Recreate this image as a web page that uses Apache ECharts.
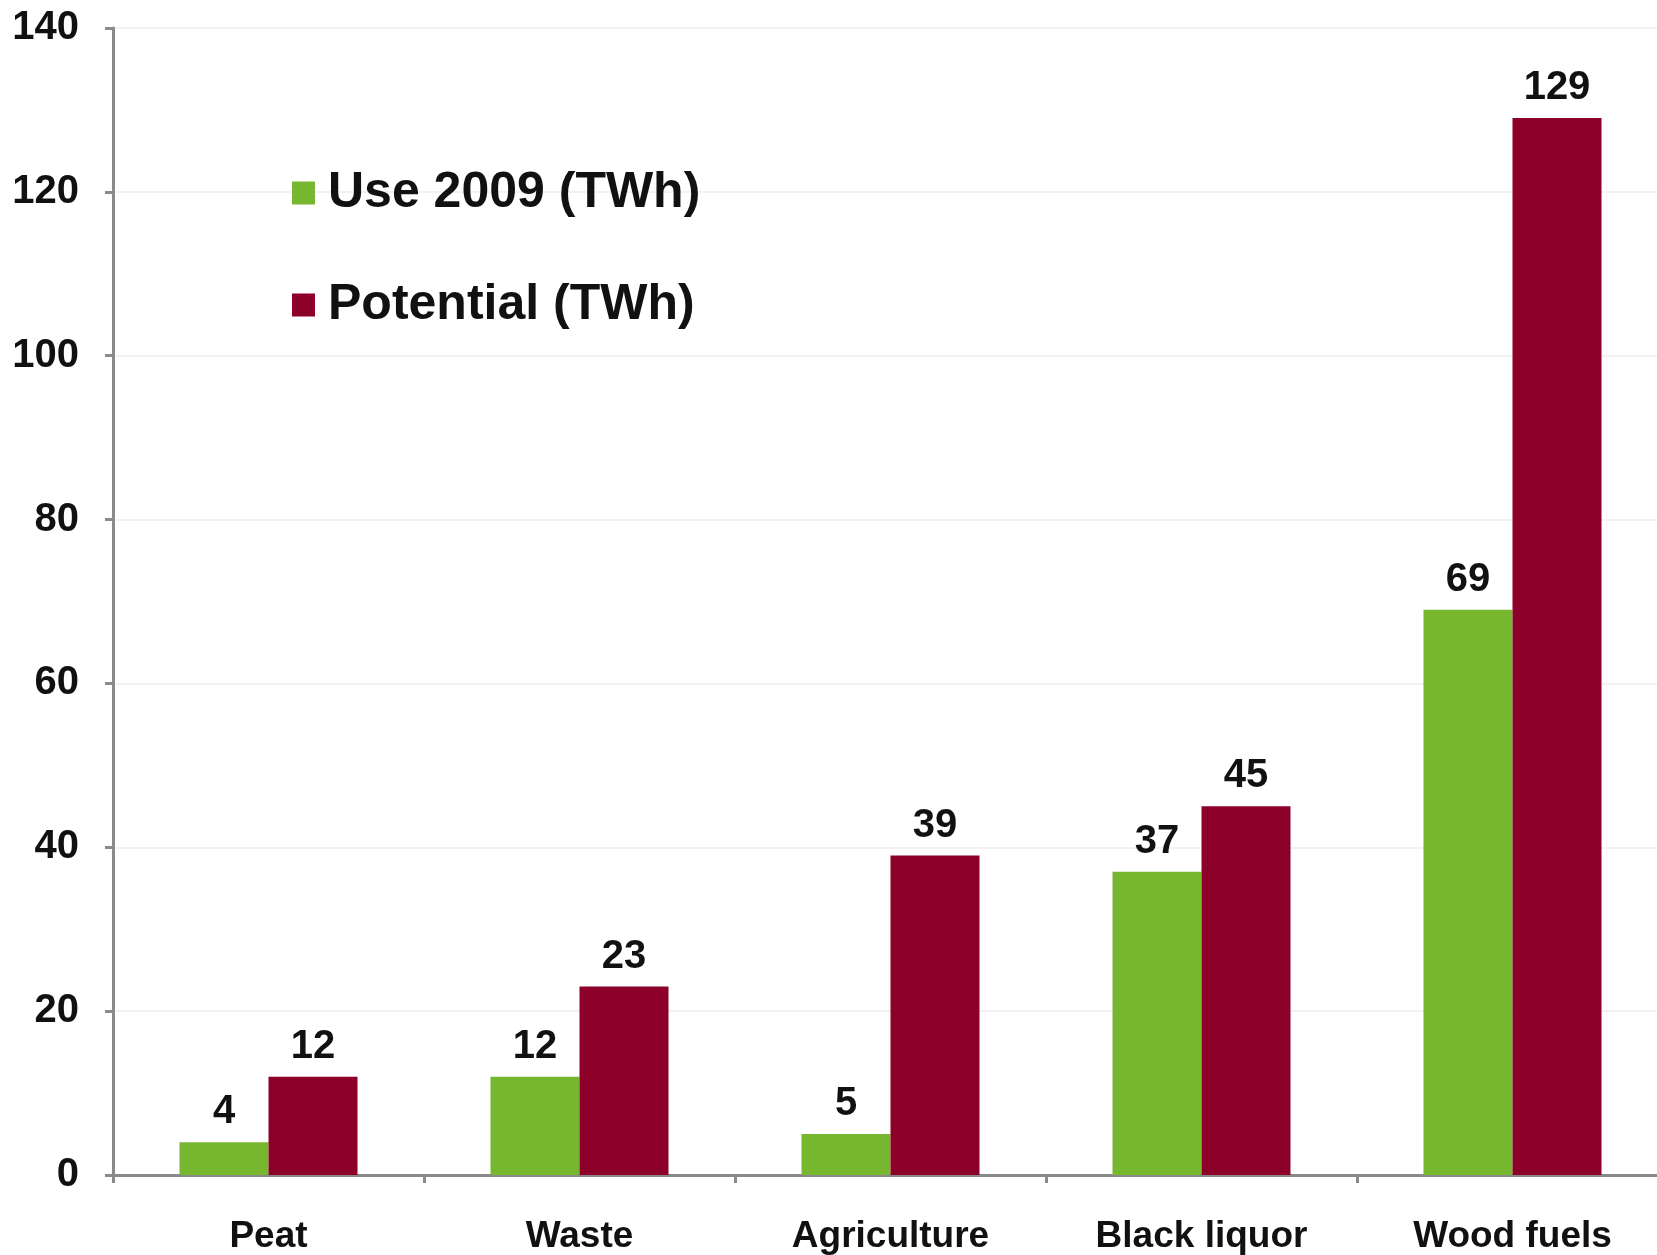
<!DOCTYPE html>
<html>
<head>
<meta charset="utf-8">
<script src="https://cdn.jsdelivr.net/npm/echarts@6/dist/echarts.min.js"></script>
<style>
  html, body { margin: 0; padding: 0; background: #fff; overflow: hidden; }
  /* the plot runs a little past the right edge of the page */
  #chart { width: 1668px; height: 1255px; }
</style>
</head>
<body>
<div id="chart"></div>
<script>
// Bioenergy sources: use in 2009 versus estimated potential
const categories = ['Peat', 'Waste', 'Agriculture', 'Black liquor', 'Wood fuels'];
const use2009 = [4, 12, 5, 37, 69];
const potential = [12, 23, 39, 45, 129];
const yTicks = { min: 0, max: 140, interval: 20 };

const FONT = '"Liberation Sans", Arial, sans-serif';
const GREEN = '#76b72f';
const RED = '#8c0029';

const chart = echarts.init(document.getElementById('chart'), null, { renderer: 'canvas' });

const valueLabel = {
  show: true,
  position: 'top',
  distance: 10,
  color: '#111',
  fontFamily: FONT,
  fontWeight: 'bold',
  fontSize: 40
};

chart.setOption({
  animation: false,
  backgroundColor: '#ffffff',
  textStyle: { fontFamily: FONT },
  grid: { left: 113, top: 28, right: 0, height: 1150, containLabel: false },
  legend: {
    orient: 'vertical',
    left: 287,
    top: 160,
    icon: 'rect',
    itemWidth: 23,
    itemHeight: 23,
    itemGap: 56,
    textStyle: {
      color: '#111',
      fontFamily: FONT,
      fontWeight: 'bold',
      fontSize: 50,
      lineHeight: 56,
      padding: [0, 0, 0, 8]
    },
    data: ['Use 2009 (TWh)', 'Potential (TWh)']
  },
  xAxis: {
    type: 'category',
    data: categories,
    axisLine: { show: true, lineStyle: { color: '#8a8a8a', width: 3 } },
    axisTick: { show: true, alignWithLabel: false, length: 8, lineStyle: { color: '#8a8a8a', width: 3 } },
    axisLabel: {
      color: '#111',
      fontFamily: FONT,
      fontWeight: 'bold',
      fontSize: 37,
      margin: 43
    }
  },
  yAxis: {
    type: 'value',
    min: yTicks.min,
    max: yTicks.max,
    interval: yTicks.interval,
    axisLine: { show: true, lineStyle: { color: '#8a8a8a', width: 3 } },
    axisTick: { show: true, length: 8, lineStyle: { color: '#8a8a8a', width: 3 } },
    splitLine: { show: true, lineStyle: { color: '#f2f2f2', width: 2 } },
    axisLabel: {
      color: '#111',
      fontFamily: FONT,
      fontWeight: 'bold',
      fontSize: 40,
      margin: 34
    }
  },
  series: [
    {
      name: 'Use 2009 (TWh)',
      type: 'bar',
      data: use2009,
      barWidth: 89,
      barGap: '0%',
      itemStyle: { color: GREEN },
      label: valueLabel
    },
    {
      name: 'Potential (TWh)',
      type: 'bar',
      data: potential,
      barWidth: 89,
      barGap: '0%',
      itemStyle: { color: RED },
      label: valueLabel
    }
  ]
});
</script>
</body>
</html>
